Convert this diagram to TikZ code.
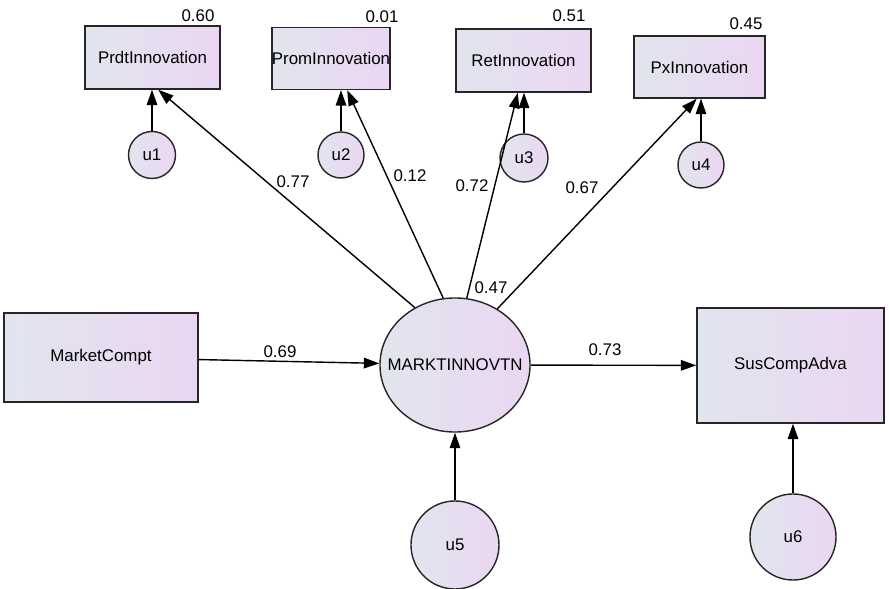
\documentclass[tikz,border=0pt]{standalone}
\usepackage{fontspec}
\setmainfont{Liberation Sans}
\usetikzlibrary{arrows.meta,shapes.geometric}
\definecolor{shadeL}{HTML}{E1E5EE}
\definecolor{shadeR}{HTML}{EBD6F2}
\begin{document}
\begin{tikzpicture}[x=0.025cm,y=-0.025cm,
  font=\fontsize{12}{14}\selectfont,
  obs/.style={draw=black!85,line width=1pt,left color=shadeL,right color=shadeR,rectangle,inner sep=0pt,minimum width=#1},
  err/.style={draw=black!85,line width=1pt,left color=shadeL,right color=shadeR,circle,inner sep=0pt,minimum size=#1},
  arr/.style={line width=1pt,-{Triangle[length=11pt,width=7.5pt]}}]
\useasboundingbox (0,0) rectangle (889,589);
% observed variables
\node[obs=3.375cm,minimum height=1.575cm] (prdt) at (152.5,57.5) {PrdtInnovation};
\node[obs=2.85cm,minimum height=1.55cm] (prom) at (331,58.5) {PromInnovation};
\node[obs=3.375cm,minimum height=1.575cm] (ret) at (523.5,60.5) {RetInnovation};
\node[obs=3.275cm,minimum height=1.55cm] (px) at (699.5,67) {PxInnovation};
\node[obs=4.85cm,minimum height=2.225cm] (mc) at (101,357.5) {MarketCompt};
\node[obs=4.675cm,minimum height=2.875cm] (sca) at (790.5,365.5) {SusCompAdva};
% latent
\node[ellipse,draw=black!85,line width=1pt,left color=shadeL,right color=shadeR,inner sep=0pt,minimum width=3.75cm,minimum height=3.35cm,label=center:MARKTINNOVTN] (mi) at (455,365) {};
% errors
\node[err=1.175cm] (u1) at (152,155) {u1};
\node[err=1.15cm] (u2) at (341,155) {u2};
\node[err=1.2cm] (u3) at (524,158) {u3};
\node[err=1.15cm] (u4) at (701,165) {u4};
\node[err=2.2cm] (u5) at (455,545) {u5};
\node[err=2.15cm] (u6) at (793,537) {u6};
% paths
\draw[arr] (mc) -- (mi);
\draw[arr] (mi) -- (sca);
\draw[arr] (mi.125) -- (prdt.-80);
\draw[arr] (mi.100) -- (prom.-63);
\draw[arr] (mi.80) -- (ret.-100);
\draw[arr] (mi.53) -- (px.-95);
\draw[arr] (u1.north) -- (u1 |- prdt.south);
\draw[arr] (u2.north) -- (u2 |- prom.south);
\draw[arr] (u3.north) -- (u3 |- ret.south);
\draw[arr] (u4.north) -- (u4 |- px.south);
\draw[arr] (u5.north) -- (u5 |- mi.south);
\draw[arr] (u6.north) -- (u6 |- sca.south);
% estimates
\draw (198,16) node (r1) {0.60};
\draw (382,17) node (r2) {0.01};
\draw (569,16) node (r3) {0.51};
\draw (746,24) node (r4) {0.45};
\draw (491,288) node (r5) {0.47};
\draw (293,182) node (w1) {0.77};
\draw (410,176) node (w2) {0.12};
\draw (472,186) node (w3) {0.72};
\draw (582,188) node (w4) {0.67};
\draw (280,352) node (w5) {0.69};
\draw (605,350) node (w6) {0.73};
\end{tikzpicture}
\end{document}
